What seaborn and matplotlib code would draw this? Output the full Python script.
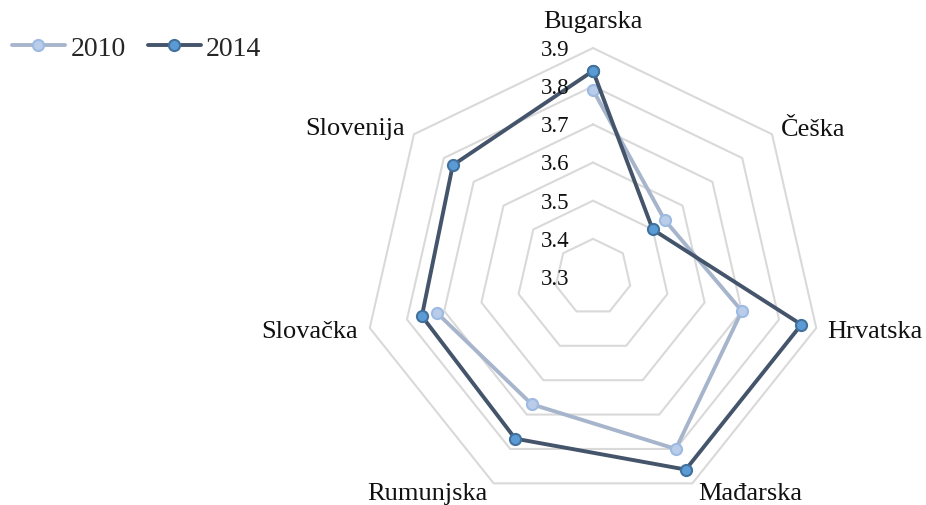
import numpy as np
import pandas as pd
import matplotlib
matplotlib.use("Agg")
import matplotlib.pyplot as plt
from matplotlib.lines import Line2D
import seaborn as sns

# Data
categories = ["Bugarska", "Češka", "Hrvatska", "Mađarska", "Rumunjska", "Slovačka", "Slovenija"]
values_2010 = [3.79, 3.54, 3.70, 3.80, 3.67, 3.72, np.nan]
values_2014 = [3.84, 3.50, 3.86, 3.86, 3.77, 3.76, 3.77]
ring_values = [3.3, 3.4, 3.5, 3.6, 3.7, 3.8, 3.9]
r_min, r_max = 3.3, 3.9

sns.set_theme(style="white")
plt.rcParams["font.family"] = ["Liberation Serif", "DejaVu Serif"]

n = len(categories)
angles = np.linspace(0, 2 * np.pi, n, endpoint=False)

fig = plt.figure(figsize=(9.26, 5.06), dpi=100)
ax = fig.add_axes([0.3931, -0.002, 0.4946, 0.9051], projection="polar")
ax.set_theta_zero_location("N")
ax.set_theta_direction(-1)
ax.set_ylim(r_min, r_max)
ax.grid(False)
ax.spines["polar"].set_visible(False)
ax.set_xticks([])
ax.set_yticks([])
ax.patch.set_alpha(0)

# Heptagonal grid rings
closed_angles = np.append(angles, angles[0])
for rv in ring_values[1:]:
    ax.plot(closed_angles, [rv] * (n + 1), color="#D9D9D9", lw=1.5, zorder=1, clip_on=False)

# Series as long-form frames (closed loop where the series is complete)
def series_frame(vals, label):
    df = pd.DataFrame({"theta": angles, "r": vals, "step": range(n)})
    df = df.dropna()
    if len(df) == n:
        first = df.iloc[[0]].copy()
        first["step"] = n
        df = pd.concat([df, first], ignore_index=True)
    df["year"] = label
    return df

styles = {
    "2010": dict(line="#A6B5CC", face="#B9CDEA", edge="#9DBBE2"),
    "2014": dict(line="#44546A", face="#5B9BD5", edge="#41719C"),
}
for label, vals in [("2010", values_2010), ("2014", values_2014)]:
    st = styles[label]
    df = series_frame(vals, label)
    sns.lineplot(data=df, x="theta", y="r", sort=False, estimator=None, ax=ax,
                 color=st["line"], lw=2.8, marker="o", markersize=8,
                 markerfacecolor=st["face"], markeredgecolor=st["edge"],
                 markeredgewidth=1.5, zorder=3 if label == "2014" else 2,
                 legend=False, clip_on=False)
ax.set_xlabel("")
ax.set_ylabel("")

# Radial value labels along the top axis
for rv in ring_values:
    ax.annotate(f"{rv:.1f}", xy=(0, rv), xytext=(-17, -1), textcoords="offset points",
                ha="right", va="center", fontsize=16.5, color="#111111", annotation_clip=False)

# Category labels (offsets in pixels from the outer vertex)
px = 0.72
label_pos = {
    "Bugarska": (0, 27, "center"),
    "Češka": (9, 5, "left"),
    "Hrvatska": (11, -3, "left"),
    "Mađarska": (6, -10, "left"),
    "Rumunjska": (-6, -10, "right"),
    "Slovačka": (-12, -3, "right"),
    "Slovenija": (-9, 6, "right"),
}
for ang, cat in zip(angles, categories):
    dx, dy, ha = label_pos[cat]
    ax.annotate(cat, xy=(ang, r_max), xytext=(dx * px, dy * px), textcoords="offset points",
                ha=ha, va="center", fontsize=19, color="#111111", annotation_clip=False)

# Legend
handles = [
    Line2D([0], [0], color=styles[k]["line"], lw=2.8, marker="o", markersize=8,
           markerfacecolor=styles[k]["face"], markeredgecolor=styles[k]["edge"], markeredgewidth=1.5)
    for k in ["2010", "2014"]
]
fig.legend(handles, ["2010", "2014"], loc="center left", bbox_to_anchor=(0.013, 0.903),
           ncol=2, frameon=False, fontsize=20, handlelength=1.9, handletextpad=0.2,
           columnspacing=0.8, borderaxespad=0, borderpad=0)

fig.savefig("out.png", dpi=100, facecolor="white")
